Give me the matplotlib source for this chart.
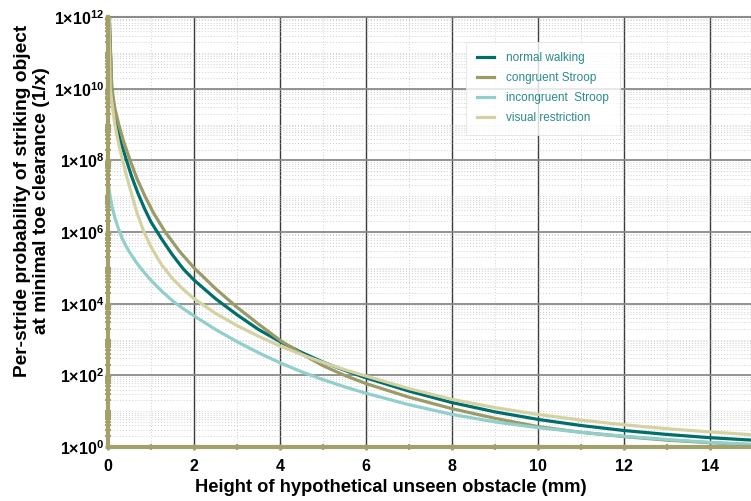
import numpy as np
import matplotlib
matplotlib.use("Agg")
import matplotlib.pyplot as plt
from matplotlib.ticker import FixedLocator, NullFormatter

plt.rcParams['font.family'] = ['Liberation Sans', 'DejaVu Sans']
plt.rcParams['mathtext.fontset'] = 'custom'
plt.rcParams['mathtext.rm'] = 'Liberation Sans:bold'
plt.rcParams['mathtext.it'] = 'Liberation Sans:bold'
plt.rcParams['mathtext.bf'] = 'Liberation Sans:bold'

# curve readings: obstacle height (mm) and log10 of 1/probability
normal_h = [0.0, 0.03, 0.06, 0.085, 0.14, 0.2, 0.3, 0.43, 0.55, 0.69, 0.85, 1.0, 1.25, 1.5, 1.75, 2.0,
            2.5, 3.0, 3.5, 4.0, 4.5, 5.0, 5.5, 6.0, 7.0, 8.0, 9.0, 10.0, 11.0, 12.0, 13.0, 14.0, 15.0]
normal_log = [13.5, 12.0, 10.9, 10.0, 9.45, 9.0, 8.5, 8.0, 7.55, 7.1, 6.65, 6.28, 5.8, 5.36, 4.97, 4.66,
              4.14, 3.69, 3.28, 2.94, 2.64, 2.37, 2.14, 1.93, 1.56, 1.24, 0.98, 0.77, 0.6, 0.46, 0.35, 0.26, 0.19]

congruent_h = [0.0, 0.03, 0.09, 0.16, 0.25, 0.37, 0.5, 0.67, 0.86, 1.05, 1.33, 1.67, 2.0, 2.5, 3.0,
               3.5, 4.0, 4.5, 5.0, 5.5, 6.0, 7.0, 8.0, 9.0, 10.0, 11.0, 12.0, 13.0, 14.0, 15.0]
congruent_log = [13.5, 12.0, 10.0, 9.45, 9.0, 8.5, 8.05, 7.5, 7.0, 6.55, 6.0, 5.45, 5.0, 4.42, 3.9,
                 3.43, 2.98, 2.6, 2.27, 2.0, 1.77, 1.39, 1.07, 0.8, 0.57, 0.41, 0.29, 0.19, 0.12, 0.065]

incongruent_h = [0.0, 0.03, 0.06, 0.1, 0.16, 0.24, 0.32, 0.4, 0.5, 0.63, 0.8, 1.0, 1.25, 1.5, 1.75, 2.0,
                 2.5, 3.0, 3.5, 4.0, 4.5, 5.0, 5.5, 6.0, 7.0, 8.0, 9.0, 10.0, 11.0, 12.0, 13.0, 14.0, 15.0]
incongruent_log = [7.45, 7.15, 6.92, 6.68, 6.4, 6.1, 5.85, 5.65, 5.44, 5.2, 4.93, 4.65, 4.35, 4.08, 3.86, 3.66,
                   3.28, 2.94, 2.63, 2.35, 2.1, 1.88, 1.68, 1.5, 1.18, 0.91, 0.7, 0.54, 0.41, 0.3, 0.21, 0.13, 0.07]

visual_h = [0.0, 0.02, 0.05, 0.1, 0.16, 0.25, 0.34, 0.44, 0.54, 0.67, 0.82, 1.0, 1.25, 1.5, 1.75, 2.0,
            2.5, 3.0, 3.5, 4.0, 4.5, 5.0, 5.5, 6.0, 7.0, 8.0, 9.0, 10.0, 11.0, 12.0, 13.0, 14.0, 15.0]
visual_log = [13.5, 12.0, 10.0, 9.5, 9.0, 8.45, 8.0, 7.52, 7.1, 6.55, 6.05, 5.58, 5.08, 4.7, 4.4, 4.14,
              3.73, 3.39, 3.09, 2.82, 2.58, 2.36, 2.16, 1.98, 1.63, 1.33, 1.1, 0.91, 0.75, 0.62, 0.51, 0.42, 0.34]

labels = ["normal walking", "congruent Stroop", "incongruent  Stroop", "visual restriction"]
colors = ["#006e6a", "#9c9a66", "#90cfcc", "#d4d2a2"]

olive = "#a3a06c"

fig = plt.figure(figsize=(7.51, 5.01), dpi=100)
ax = fig.add_axes([108/751, 1-447/501, 645/751, 430/501])

series = [(normal_h, normal_log), (congruent_h, congruent_log),
          (incongruent_h, incongruent_log), (visual_h, visual_log)]
for (hh, lg), lab, col in zip(series, labels, colors):
    ax.plot(hh, np.power(10.0, lg), color=col, lw=2.3, label=lab, zorder=3,
            solid_joinstyle='round')

ax.set_yscale('log')
ax.set_xlim(0, 15)
ax.set_ylim(1, 1e12)

# ticks and grid
ax.xaxis.set_major_locator(FixedLocator(np.arange(0, 16, 2)))
ax.xaxis.set_minor_locator(FixedLocator(np.arange(1, 16, 2)))
major_y = 10.0 ** np.arange(0, 13, 2)
minor_y = [m * 10.0 ** k for k in range(0, 12) for m in range(1, 10)
           if not (m == 1 and k % 2 == 0)]
ax.yaxis.set_major_locator(FixedLocator(major_y))
ax.yaxis.set_minor_locator(FixedLocator(minor_y))
ax.yaxis.set_minor_formatter(NullFormatter())
ax.set_yticklabels([r'$1{\times}10^{%d}$' % k for k in range(0, 13, 2)])

ax.grid(which='major', axis='x', color='#3a3a3a', lw=1.0)
ax.grid(which='major', axis='y', color='#8a8a8a', lw=1.3)
ax.grid(which='minor', axis='both', color='#d0d0d0', lw=0.7, ls=(0, (1, 2)))
ax.set_axisbelow(True)

ax.spines['right'].set_visible(False)
ax.spines['top'].set_color('#8a8a8a')
ax.spines['top'].set_linewidth(1.5)
for s in ['left', 'bottom']:
    ax.spines[s].set_color(olive)
    ax.spines[s].set_linewidth(3)
    ax.spines[s].set_zorder(4)

ax.tick_params(which='major', direction='inout', color=olive, length=5, width=2,
               labelsize=11.5)
ax.tick_params(axis='y', which='major', pad=0.5)
ax.tick_params(axis='x', which='major', pad=6)
ax.tick_params(which='minor', direction='inout', color=olive, length=4, width=1.5)
for t in ax.get_xticklabels():
    t.set_fontweight('bold')

fig.text(391/751, 1-488/501, 'Height of hypothetical unseen obstacle (mm)', fontsize=13.2,
         fontweight='bold', ha='center', va='center')
fig.text(32/751, 1-201/501,
         'Per-stride probability of striking object\nat minimal toe clearance (1/x)',
         fontsize=13.8, fontweight='bold', ha='center', va='center', rotation=90,
         linespacing=1.2, multialignment='center')

leg = ax.legend(loc='upper left', bbox_to_anchor=(0.555, 0.943), fontsize=8.5,
                frameon=True, fancybox=False, handlelength=1.5, handletextpad=1.0,
                labelspacing=0.68, borderpad=0.9, borderaxespad=0)
leg.get_frame().set_edgecolor('#e4e4e4')
leg.get_frame().set_linewidth(0.8)
for t in leg.get_texts():
    t.set_color('#2b8a8a')

fig.savefig('out.png', dpi=100)
